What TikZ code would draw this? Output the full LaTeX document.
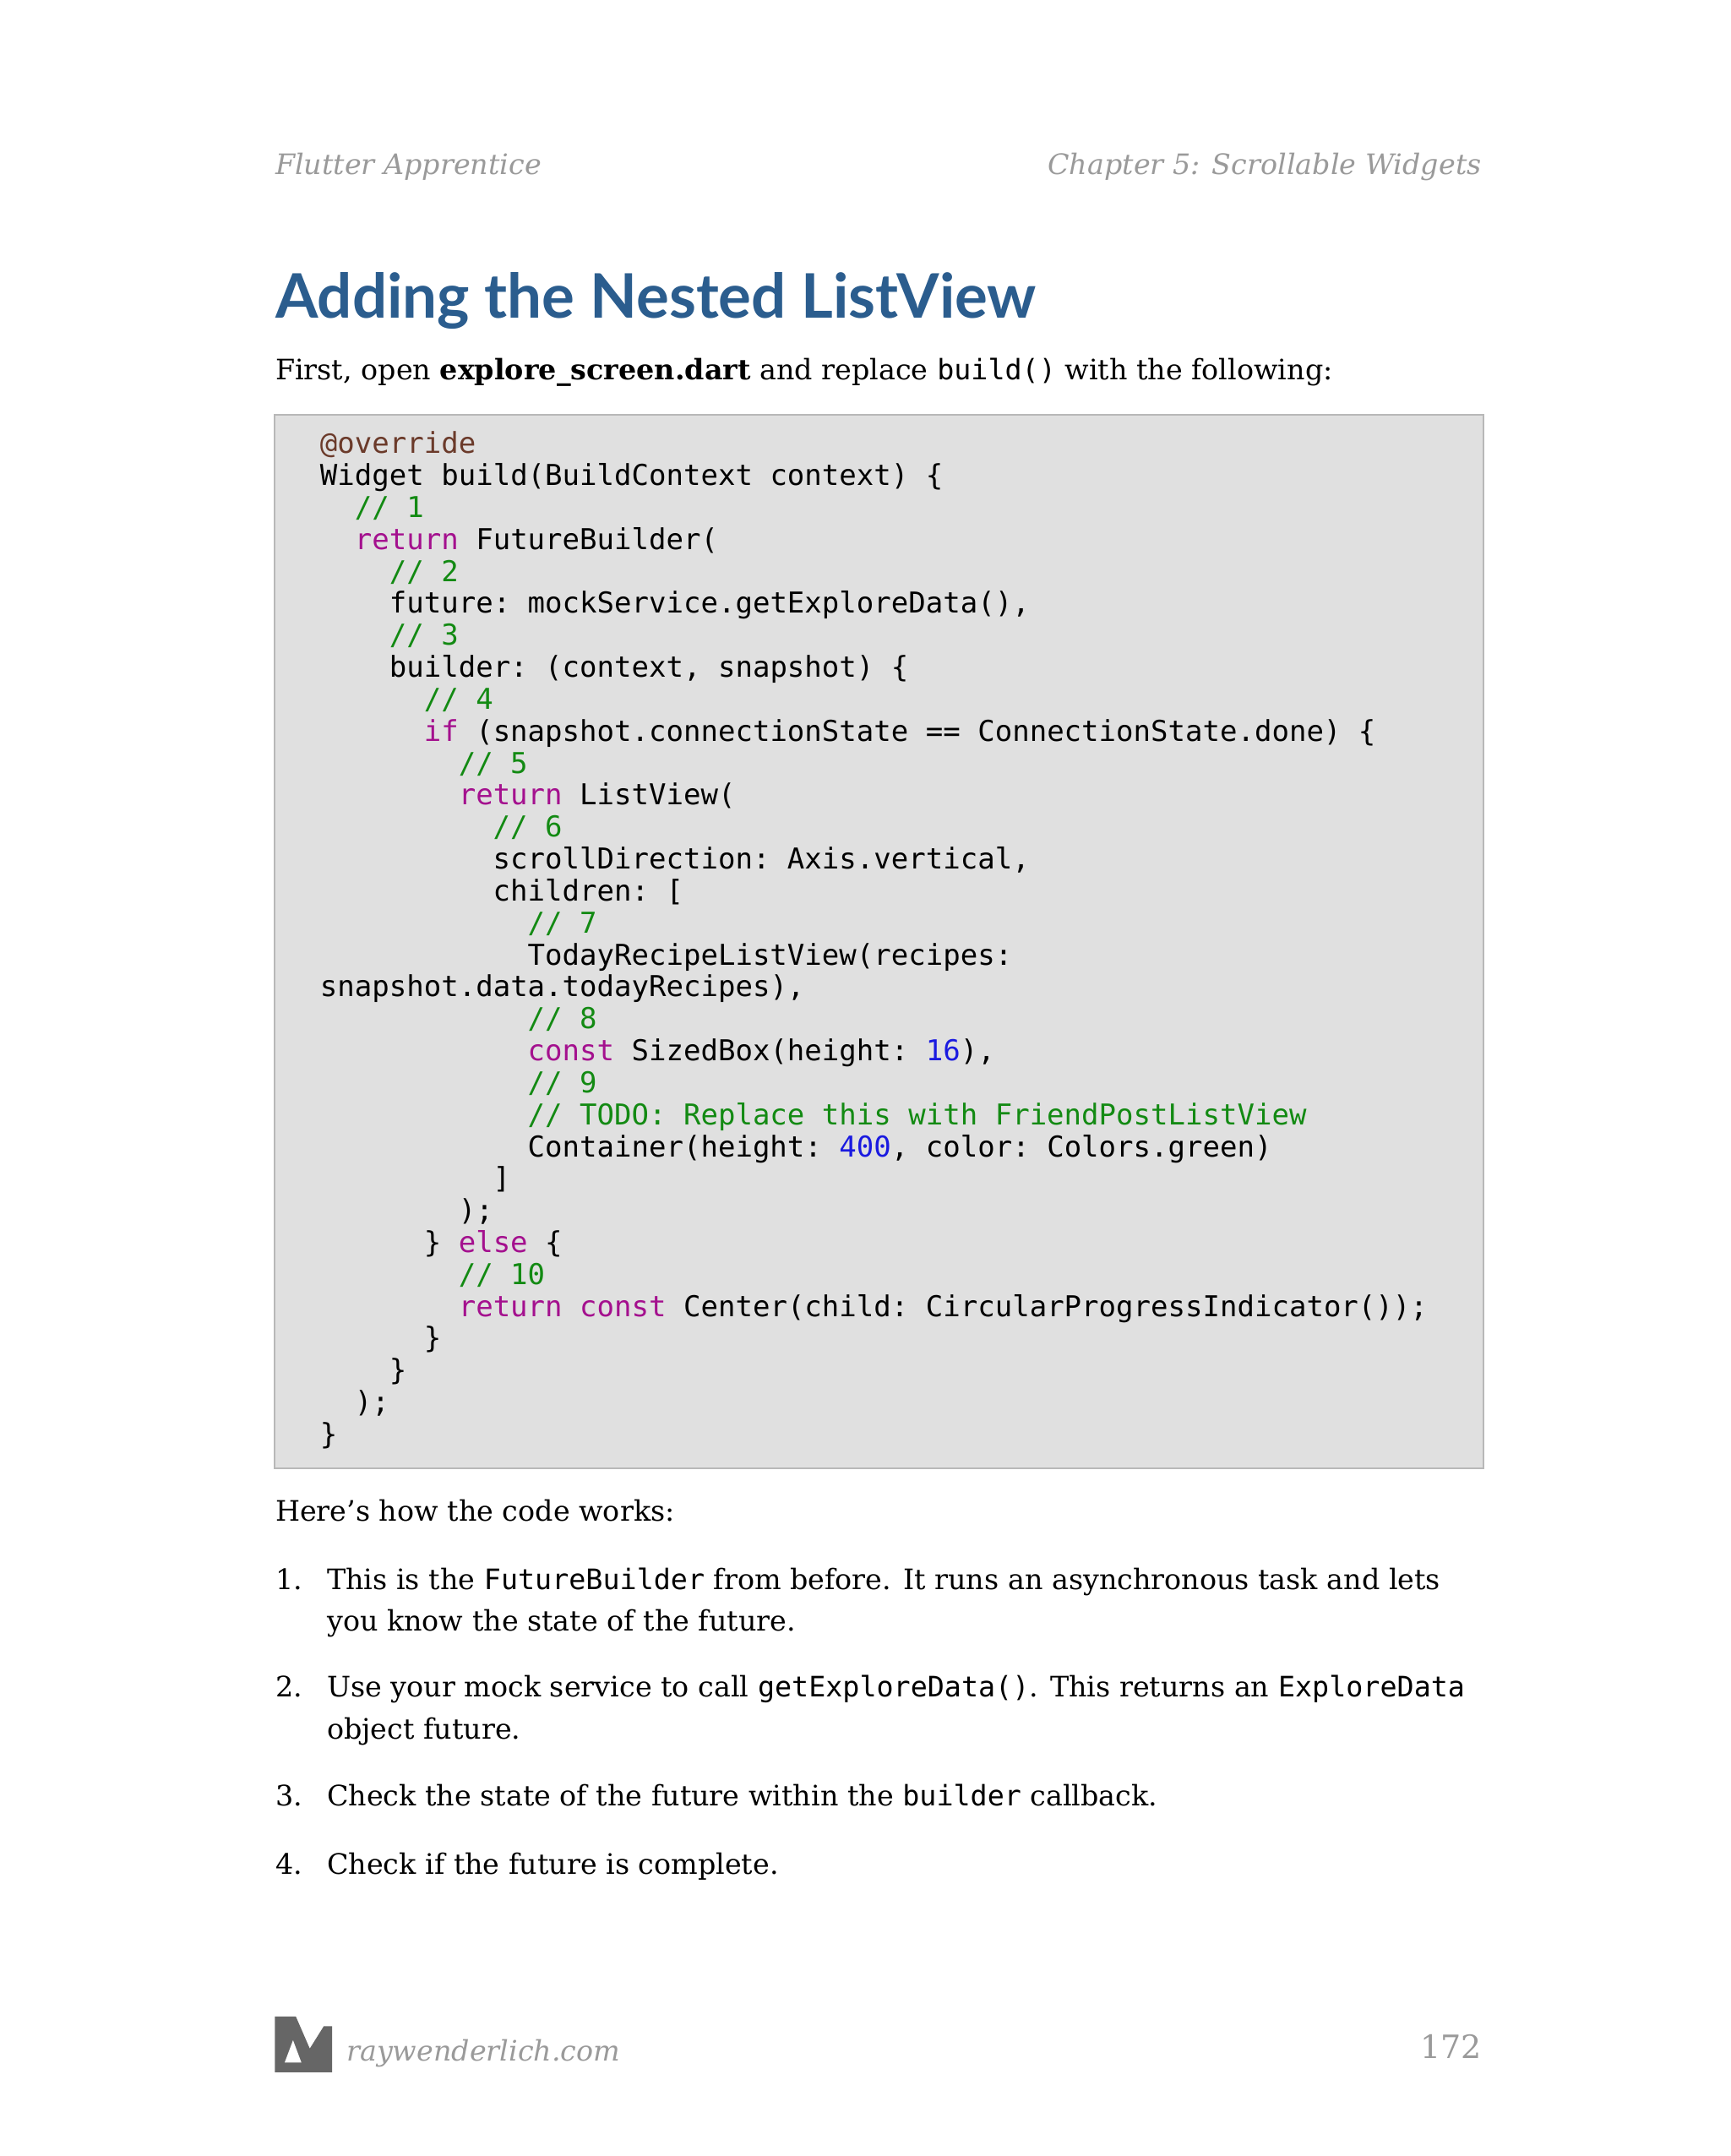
\documentclass[tikz,border=0pt]{standalone}
\usepackage{fontspec}
\setmainfont{DejaVu Serif}
\newfontfamily\latofont{Lato}
\setmonofont{DejaVu Sans Mono}
\definecolor{kw}{HTML}{A4108E}
\definecolor{cm}{HTML}{138A13}
\definecolor{nm}{HTML}{1A1AE0}
\definecolor{at}{HTML}{6B3A2A}
\definecolor{ttl}{HTML}{2B5D8E}
\definecolor{hd}{HTML}{9A9A9A}
\newcommand{\K}[1]{\textcolor{kw}{#1}}
\newcommand{\C}[1]{\textcolor{cm}{#1}}
\newcommand{\N}[1]{\textcolor{nm}{#1}}
\begin{document}
\begin{tikzpicture}[x=0.5pt,y=-0.5pt,
  txt/.style={anchor=base west,inner sep=0,font=\fontsize{10.1}{13}\selectfont},
  code/.style={anchor=base west,inner sep=0,font=\ttfamily\fontsize{10.3}{11.45}\selectfont}]
\useasboundingbox (0,0) rectangle (1240,1545);
\fill[white] (0,0) rectangle (1240,1545);
\node[txt,font=\itshape\fontsize{10.1}{13}\selectfont,text=hd] (h1) at (197,125) {Flutter Apprentice};
\node[txt,anchor=base east,font=\itshape\fontsize{10.1}{13}\selectfont,text=hd] (h2) at (1062,125) {Chapter 5: Scrollable Widgets};
\node[txt,font=\latofont\bfseries\fontsize{22}{26}\selectfont,text=ttl] (title) at (197,228) {Adding the Nested ListView};
\node[txt] (intro) at (197,272) {First, open \textbf{explore\_screen.dart} and replace \texttt{build()} with the following:};
\draw[fill=black!12,draw=black!28,line width=0.6pt] (197,297) rectangle (1063,1052);
\foreach \i/\ind/\t in {
0/0/{\textcolor{at}{@override}},
1/0/{Widget build(BuildContext context) \{},
2/1/{\C{// 1}},
3/1/{\K{return} FutureBuilder(},
4/2/{\C{// 2}},
5/2/{future: mockService.getExploreData(),},
6/2/{\C{// 3}},
7/2/{builder: (context, snapshot) \{},
8/3/{\C{// 4}},
9/3/{\K{if} (snapshot.connectionState == ConnectionState.done) \{},
10/4/{\C{// 5}},
11/4/{\K{return} ListView(},
12/5/{\C{// 6}},
13/5/{scrollDirection: Axis.vertical,},
14/5/{children: [},
15/6/{\C{// 7}},
16/6/{TodayRecipeListView(recipes:},
17/0/{snapshot.data.todayRecipes),},
18/6/{\C{// 8}},
19/6/{\K{const} SizedBox(height: \N{16}),},
20/6/{\C{// 9}},
21/6/{\C{// TODO: Replace this with FriendPostListView}},
22/6/{Container(height: \N{400}, color: Colors.green)},
23/5/{]},
24/4/{);},
25/3/{\} \K{else} \{},
26/4/{\C{// 10}},
27/4/{\K{return} \K{const} Center(child: CircularProgressIndicator());},
28/3/{\}},
29/2/{\}},
30/1/{);},
31/0/{\}}}
{\node[code] (c\i) at ({229+24.8*\ind},{325+22.9*\i}) {\t};}
\node[txt] (how) at (197,1090) {Here’s how the code works:};
\foreach \n/\y in {1/1139,2/1216,3/1294,4/1343}{\node[txt] (n\n) at (197,\y) {\n.};}
\node[txt] (l1a) at (234,1139) {This is the \texttt{FutureBuilder} from before. It runs an asynchronous task and lets};
\node[txt] (l1b) at (234,1169) {you know the state of the future.};
\node[txt] (l2a) at (234,1216) {Use your mock service to call \texttt{getExploreData()}. This returns an \texttt{ExploreData}};
\node[txt] (l2b) at (234,1246) {object future.};
\node[txt] (l3) at (234,1294) {Check the state of the future within the \texttt{builder} callback.};
\node[txt] (l4) at (234,1343) {Check if the future is complete.};
\fill[black!60] (197,1485) -- (197,1445) -- (212,1445) -- (222,1468) -- (232,1452) -- (238,1452) -- (238,1485) -- cycle;
\fill[white] (204,1478) -- (210,1462) -- (216,1478) -- cycle;
\node[txt,font=\itshape\fontsize{10.1}{13}\selectfont,text=hd] (site) at (248,1477) {raywenderlich.com};
\node[txt,anchor=base east,font=\fontsize{11.5}{14}\selectfont,text=hd] (pg) at (1062,1475) {172};
\end{tikzpicture}
\end{document}
